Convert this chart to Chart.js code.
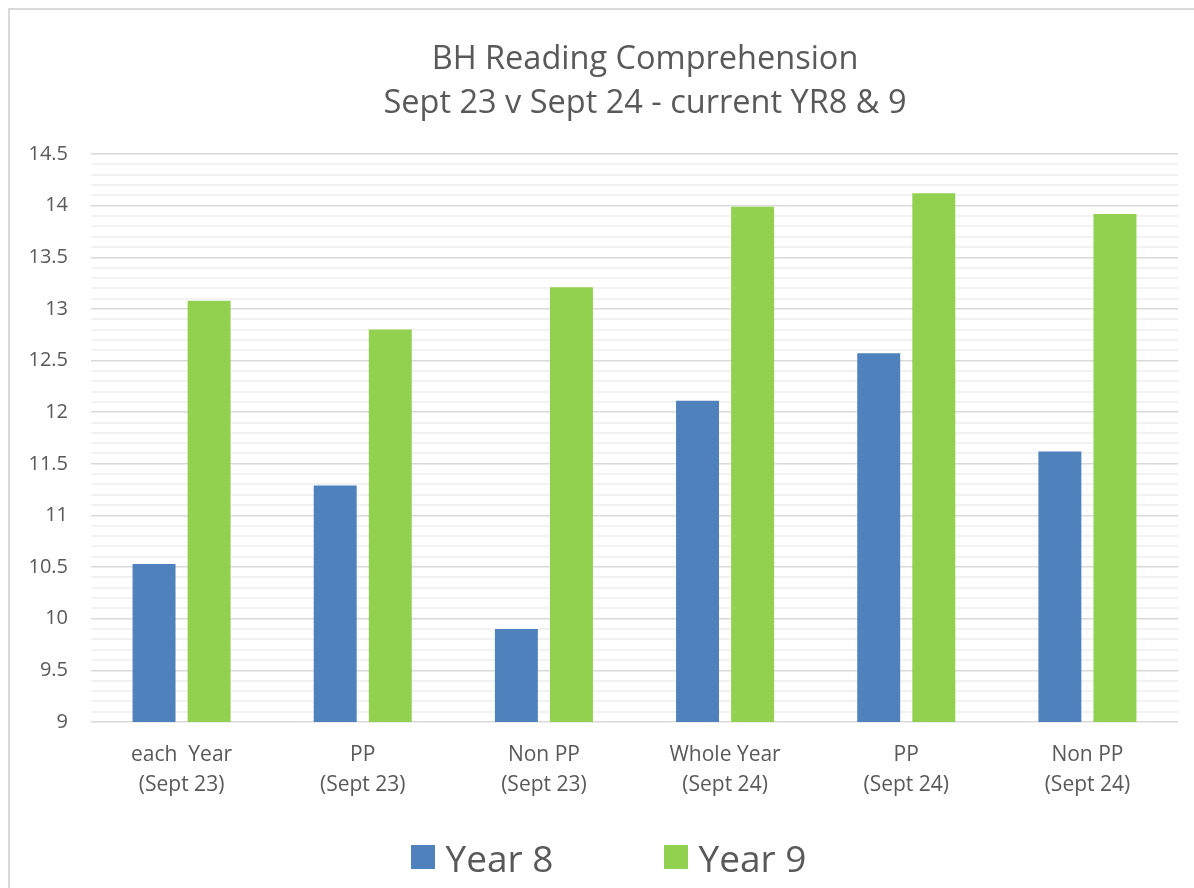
<!DOCTYPE html>
<html>
<head>
<meta charset="utf-8">
<script src="https://cdn.jsdelivr.net/npm/chart.js@4.4.1/dist/chart.umd.min.js"></script>
<style>
  html, body { margin: 0; padding: 0; background: #fff; overflow: hidden; }
  #frame {
    position: absolute; left: 8px; top: 8px; width: 1400px; height: 1200px;
    border: 2px solid #d9d9d9; box-sizing: border-box;
  }
  #wrap { position: absolute; left: 0; top: 0; width: 1194px; height: 888px; }
  #legend {
    position: absolute; left: 0; top: 832px; width: 1217px; height: 50px;
    display: flex; justify-content: center; align-items: center;
    font-family: 'Open Sans', sans-serif; font-size: 37px; color: #595959;
  }
  .item { display: flex; align-items: center; margin: 0 55px; }
  .swatch { width: 24px; height: 24px; margin-right: 11px; }
</style>
</head>
<body>
<div id="frame"></div>
<div id="wrap"><canvas id="chart"></canvas></div>
<div id="legend"></div>
<script>
  // category labels (two lines each)
  const categories = [
    ['each  Year', '(Sept 23)'],
    ['PP', '(Sept 23)'],
    ['Non PP', '(Sept 23)'],
    ['Whole Year', '(Sept 24)'],
    ['PP', '(Sept 24)'],
    ['Non PP', '(Sept 24)']
  ];
  const year8 = [10.53, 11.29, 9.90, 12.11, 12.57, 11.62];
  const year9 = [13.08, 12.80, 13.21, 13.99, 14.12, 13.92];
  const seriesNames = ['Year 8', 'Year 9'];
  const seriesColors = ['#4f81bd', '#92d050'];
  const yMin = 9;
  const yMax = 14.5;

  const FONT = "'Open Sans', sans-serif";
  const TEXT = '#595959';

  function isMajor(v) {
    return Math.abs(v * 2 - Math.round(v * 2)) < 1e-6;
  }

  // shift the title so it sits where the original one does
  const titleShift = {
    id: 'titleShift',
    afterLayout(chart) {
      const t = chart.titleBlock;
      if (!t) return;
      const d = 645 - (t.left + t.right) / 2;
      t.left += d;
      t.right += d;
    }
  };

  const chart = new Chart(document.getElementById('chart'), {
    type: 'bar',
    data: {
      labels: categories,
      datasets: [
        { label: seriesNames[0], data: year8, backgroundColor: seriesColors[0] },
        { label: seriesNames[1], data: year9, backgroundColor: seriesColors[1] }
      ]
    },
    options: {
      responsive: true,
      maintainAspectRatio: false,
      animation: false,
      devicePixelRatio: 1,
      categoryPercentage: 0.608,
      barPercentage: 0.78,
      layout: { padding: { left: 0, right: 16, top: 0, bottom: 66 } },
      plugins: {
        legend: { display: false },
        tooltip: { enabled: false },
        title: {
          display: true,
          text: ['BH Reading Comprehension', 'Sept 23 v Sept 24 - current YR8 & 9'],
          color: TEXT,
          font: { family: FONT, size: 32.5, weight: 'normal', lineHeight: 44 / 32.5 },
          padding: { top: 38, bottom: 28 }
        }
      },
      scales: {
        x: {
          grid: { display: false },
          border: { display: false },
          ticks: {
            color: TEXT,
            font: { family: FONT, size: 21, lineHeight: 30 / 21 },
            padding: 10,
            maxRotation: 0,
            autoSkip: false
          },
          afterFit(scale) { scale.height = 100; }
        },
        y: {
          min: yMin,
          max: yMax,
          border: { display: false },
          grid: {
            drawTicks: false,
            color: (ctx) => (isMajor(ctx.tick.value) ? '#d9d9d9' : '#f2f2f2'),
            lineWidth: (ctx) => (isMajor(ctx.tick.value) ? 1.5 : 2)
          },
          ticks: {
            stepSize: 0.1,
            autoSkip: false,
            color: TEXT,
            padding: 23,
            font: { family: FONT, size: 20 },
            callback: (v) => (isMajor(v) ? String(Math.round(v * 10) / 10) : '')
          },
          afterFit(scale) { scale.width = 91; }
        }
      }
    },
    plugins: [titleShift]
  });

  // html legend built from the datasets
  const legendEl = document.getElementById('legend');
  legendEl.innerHTML = chart.data.datasets
    .map((ds) => `<div class="item"><span class="swatch" style="background:${ds.backgroundColor}"></span><span>${ds.label}</span></div>`)
    .join('');
</script>
</body>
</html>
